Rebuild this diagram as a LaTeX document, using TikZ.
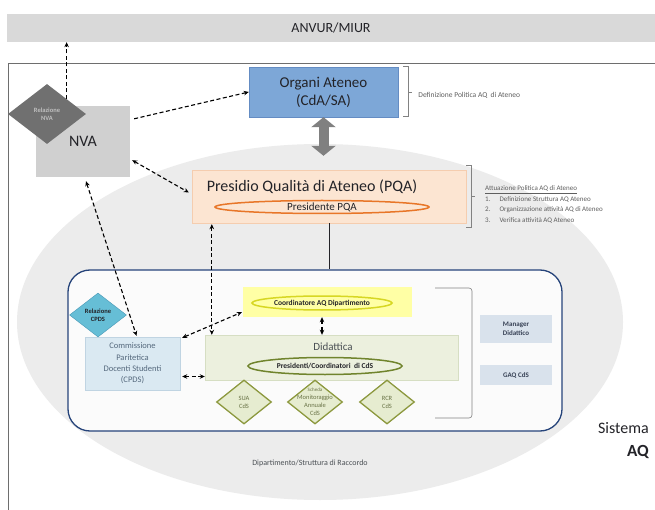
\documentclass[tikz,border=0pt]{standalone}
\usepackage{fontspec}
\setmainfont{Carlito}
\usetikzlibrary{calc,arrows.meta,shapes.geometric}

\definecolor{anvurgray}{RGB}{217,217,217}
\definecolor{framegray}{RGB}{110,110,110}
\definecolor{sysgray}{RGB}{236,236,236}
\definecolor{darktxt}{RGB}{35,35,40}
\definecolor{midtxt}{RGB}{75,80,85}
\definecolor{notetxt}{RGB}{95,95,95}
\definecolor{nvagray}{RGB}{208,208,208}
\definecolor{reldark}{RGB}{112,112,112}
\definecolor{orgblue}{RGB}{125,167,215}
\definecolor{orgline}{RGB}{100,140,195}
\definecolor{pqafill}{RGB}{252,229,210}
\definecolor{pqaline}{RGB}{245,205,175}
\definecolor{pqaorange}{RGB}{232,118,40}
\definecolor{dipblue}{RGB}{38,68,122}
\definecolor{coordfill}{RGB}{255,255,165}
\definecolor{coordline}{RGB}{215,215,35}
\definecolor{didfill}{RGB}{236,240,222}
\definecolor{didline}{RGB}{214,222,195}
\definecolor{presline}{RGB}{112,132,45}
\definecolor{docline}{RGB}{140,152,62}
\definecolor{docfill}{RGB}{230,236,208}
\definecolor{doctxt}{RGB}{105,115,70}
\definecolor{cpdsfill}{RGB}{218,233,242}
\definecolor{cpdsline}{RGB}{192,212,226}
\definecolor{cpdstxt}{RGB}{85,105,125}
\definecolor{cpdsdia}{RGB}{102,190,214}
\definecolor{cpdsdialine}{RGB}{72,152,182}
\definecolor{sidefill}{RGB}{217,226,236}
\definecolor{sidetxt}{RGB}{55,65,85}
\definecolor{bracegray}{RGB}{130,130,130}
\definecolor{bigarrowgray}{RGB}{128,128,128}

\newcommand\fsz[2]{\fontsize{#1}{#2}\selectfont}

\tikzset{
  link/.style={dash pattern=on 4pt off 2.5pt, line width=1.1pt,
    {Stealth[length=5pt,width=4.5pt]}-{Stealth[length=5pt,width=4.5pt]}},
  onelink/.style={link, -{Stealth[length=5pt,width=4.5pt]}},
  bigarrow/.style={line width=10pt, bigarrowgray,
    {Triangle[length=10pt,width=24pt]}-{Triangle[length=10pt,width=24pt]}},
  brace/.style={bracegray, line width=0.6pt},
  note/.style={font=\fsz{7.5}{9}, text=notetxt, inner sep=0},
  doc/.style={diamond, draw=docline, line width=1.3pt, fill=docfill,
    minimum width=55, minimum height=44, inner sep=0},
  side/.style={fill=sidefill, minimum width=72, minimum height=28, inner sep=0,
    align=center, font=\bfseries\fsz{7}{8.5}, text=sidetxt}
}

\begin{document}
\begin{tikzpicture}[x=1pt,y=-1pt]
  \useasboundingbox (0,0) rectangle (655,510);
  \fill[white] (0,0) rectangle (655,510);

  \node[fill=anvurgray, minimum width=648, minimum height=28, inner sep=0,
    font=\fsz{14}{16}, text=darktxt] (anvur) at (331,28) {ANVUR/MIUR};
  \draw[framegray, line width=0.8pt] (8,63) rectangle (700,560);

  \node[ellipse, fill=sysgray, minimum width=606, minimum height=356, inner sep=0] (sys) at (320,322) {};

  \node[fill=orgblue, draw=orgline, minimum width=149, minimum height=50, align=center,
    font=\fsz{15}{18}, text=darktxt] (organi) at (323.5,92) {Organi Ateneo\\(CdA/SA)};
  \draw[brace] ($(organi.north east)+(5,0)$) -- ++(5,0) -- ++(0,50) -- ++(-5,0)
    ($(organi.east)+(10,0)$) -- ++(4,0);
  \node[note, anchor=west] (defpol) at ($(organi.east)+(20,3)$) {Definizione Politica AQ\ \ di Ateneo};

  \node[fill=nvagray, minimum width=94, minimum height=71, font=\fsz{16}{18}, text=darktxt] (nva) at (83,141.5) {NVA};
  \node[diamond, fill=reldark, minimum width=78, minimum height=60, inner sep=0, align=center,
    font=\bfseries\fsz{6.5}{8}, text=white!75!black] (relnva) at (47,114) {Relazione\\NVA};

  \node[fill=pqafill, draw=pqaline, minimum width=274, minimum height=53] (pqa) at (329,196.5) {};
  \node[font=\fsz{16}{18}, text=darktxt, inner sep=0] (pqatitle) at (312,187) {Presidio Qualità di Ateneo (PQA)};
  \node[ellipse, draw=pqaorange, line width=1.5pt, minimum width=214, minimum height=13, inner sep=0,
    font=\fsz{11}{12}, text=darktxt] (prespqa) at (322,207) {Presidente PQA};
  \draw[brace] ($(pqa.north east)+(0,-4)$) -- ++(5,0) -- ++(0,62) -- ++(-5,0)
    ($(pqa.east)+(5,0)$) -- ++(4,0);
  \node[note, anchor=north west, font=\fsz{7}{10.5}] (attua) at (485,183) {%
    \begin{tabular}{@{}l@{\hspace{9pt}}l@{}}
      \multicolumn{2}{@{}l}{\underline{Attuazione Politica AQ di Ateneo}}\\
      1. & Definizione Struttura AQ Ateneo\\
      2. & Organizzazione attività AQ di Ateneo\\
      3. & Verifica attività AQ Ateneo
    \end{tabular}};

  \node[draw=dipblue, line width=1.3pt, fill=white!97!gray, rounded corners=22,
    minimum width=494, minimum height=161] (dip) at (315,350.5) {};
  \draw[line width=1pt, darktxt] (pqa.south) -- (pqa.south |- dip.north);
  \draw[brace, rounded corners=3] (435,288) -- (472,288) -- (472,418) -- (435,418);

  \node[fill=coordfill, minimum width=169, minimum height=30] (coord) at (327.5,302) {};
  \node[ellipse, draw=coordline, line width=1.5pt, minimum width=140, minimum height=14, inner sep=0,
    font=\bfseries\fsz{7.5}{9}, text=darktxt] (coordaq) at (322,303) {Coordinatore AQ Dipartimento};

  \node[fill=didfill, draw=didline, minimum width=253, minimum height=45] (did) at (331.5,357.5) {};
  \node[font=\fsz{11}{12}, text=midtxt, inner sep=0] (didtitle) at (333,347) {Didattica};
  \node[ellipse, draw=presline, line width=1.5pt, minimum width=154, minimum height=17, inner sep=0,
    font=\bfseries\fsz{7.5}{9}, text=darktxt] (prescds) at (325,366) {Presidenti/Coordinatori\ \ di CdS};

  \foreach \name/\x/\txt in {sua/244/{SUA\\CdS}, sma/315/{\fsz{5}{6}Scheda\\Monitoraggio\\Annuale\\CdS}, rcr/387/{RCR\\CdS}}
    \node[doc, label={[align=center, font=\fsz{6.5}{8}, text=doctxt, inner sep=0]center:\txt}] (\name) at (\x,402) {};

  \node[fill=cpdsfill, draw=cpdsline, minimum width=95, minimum height=53, inner sep=0, align=center,
    font=\fsz{8.5}{11.3}, text=cpdstxt] (cpds) at (132.5,363.5) {Commissione\\Paritetica\\Docenti Studenti\\(CPDS)};
  \node[diamond, fill=cpdsdia, draw=cpdsdialine, minimum width=57, minimum height=44, inner sep=0, align=center,
    font=\bfseries\fsz{6.5}{8}, text=darktxt] (relcpds) at (98,315) {Relazione\\CPDS};

  \node[side] (mgr) at (516,329) {Manager\\Didattico};
  \node[side, minimum height=20] (gaq) at (516,375) {GAQ CdS};

  \node[anchor=east, font=\fsz{16}{18}, text=darktxt, inner sep=0] (sistema) at (649,428) {Sistema};
  \node[anchor=east, font=\bfseries\fsz{17}{19}, text=darktxt, inner sep=0] (aq) at (649,452) {AQ};
  \node[font=\fsz{8}{9}, text=midtxt] (dipname) at (310,463) {Dipartimento/Struttura di Raccordo};

  \draw[onelink] (relnva.north east) -- (relnva.north east |- anvur.south);
  \draw[onelink] ($(nva.north east)+(4,13)$) -- (organi.west);
  \draw[bigarrow] (organi.south) -- ($(organi.south |- sys.north)+(0,12)$);
  \draw[link] ($(nva.south east)+(2,-17)$) -- ($(pqa.west)+(-3,-4)$);
  \draw[link] ($(nva.south)+(3,4)$) -- ($(cpds.north)+(4,-1)$);
  \coordinate (pqadown) at ($(pqa.south west)+(20,1)$);
  \draw[link] (pqadown) -- (pqadown |- did.north);
  \draw[link] ($(cpds.north east)+(2,1)$) -- ($(coord.south west)+(-1,-5)$);
  \draw[link] ($(cpds.east)+(2,13)$) -- ($(cpds.east -| did.west)+(0,13)$);
  \draw[link] (coordaq.south |- coord.south) -- (coordaq.south |- did.north);
\end{tikzpicture}
\end{document}
